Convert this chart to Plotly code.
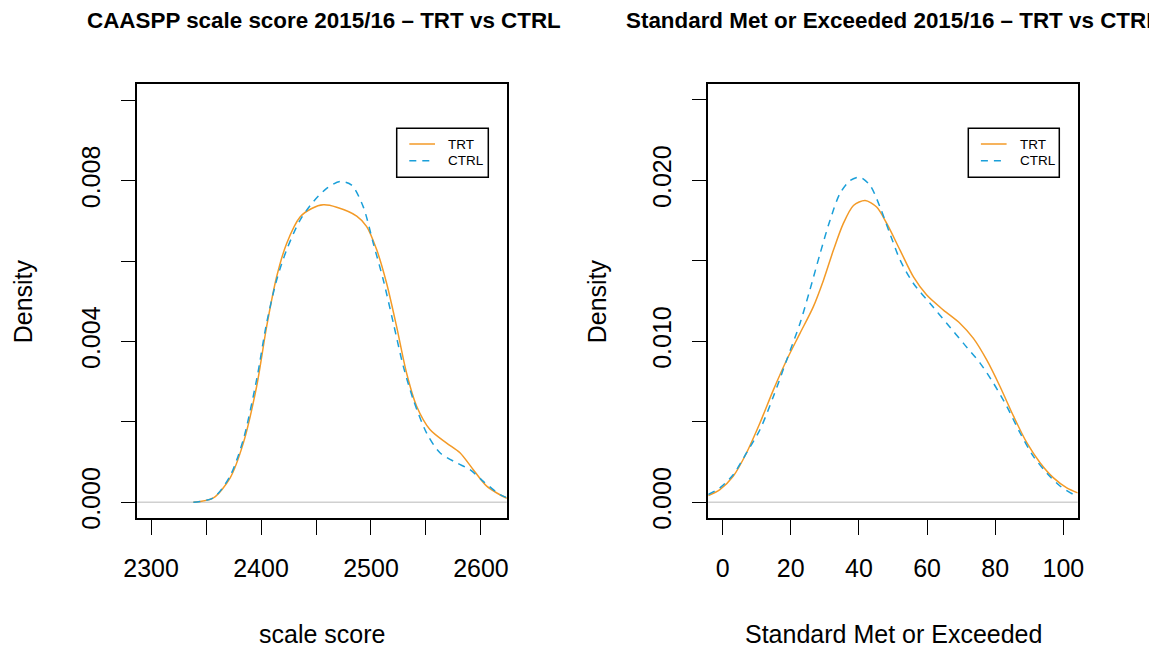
import plotly.graph_objects as go

# The page body adds an 8px margin, so the figure is drawn 8px smaller and
# all reference pixel positions are shifted by that offset.
WIN_W, WIN_H = 1157, 650
OFF = 8
W, H = WIN_W - OFF, WIN_H - OFF

# ---- data ----
score_trt_x = [2338.5, 2356.7, 2371.8, 2383.9, 2396.0, 2405.1, 2414.2, 2423.3, 2435.5, 2446.1,
               2456.7, 2468.8, 2487.0, 2496.1, 2505.2, 2514.2, 2523.3, 2532.4, 2541.5, 2553.6,
               2568.8, 2580.9, 2593.0, 2605.2, 2622.7, 2630.0]
score_trt_y = [0.0, 0.00011, 0.0006, 0.00147, 0.00288, 0.00437, 0.00561, 0.00644, 0.0071, 0.00731,
               0.0074, 0.00734, 0.00712, 0.00686, 0.00628, 0.00545, 0.00437, 0.00321, 0.00239, 0.00181,
               0.00147, 0.00123, 0.00081, 0.0004, 0.00011, 0.00005]
score_ctrl_x = [2338.5, 2356.7, 2371.8, 2383.9, 2396.0, 2405.1, 2414.2, 2423.3, 2435.5, 2447.6,
                2459.7, 2471.8, 2482.4, 2493.0, 2502.1, 2511.2, 2520.3, 2529.4, 2538.5, 2550.6,
                2562.7, 2577.9, 2590.0, 2602.1, 2617.3, 2630.0]
score_ctrl_y = [0.0, 0.00011, 0.00065, 0.00156, 0.00305, 0.00446, 0.00553, 0.00628, 0.00702, 0.00748,
                0.00781, 0.00798, 0.00789, 0.00735, 0.00644, 0.00553, 0.00446, 0.00338, 0.00255, 0.00172,
                0.00123, 0.00098, 0.00081, 0.00052, 0.00019, 0.00005]

met_trt_x = [-4.2, -0.8, 3.1, 7.0, 10.95, 14.9, 18.8, 22.7, 26.6, 29.6, 32.5, 35.4, 38.4, 41.8, 45.2,
             48.2, 52.1, 56.0, 59.9, 64.8, 69.7, 73.6, 77.5, 81.4, 85.4, 89.3, 93.2, 97.1, 101.0, 104.2]
met_trt_y = [0.00041, 0.00078, 0.00161, 0.00306, 0.00492, 0.00698, 0.00884, 0.01049, 0.01214, 0.0138,
             0.01565, 0.01731, 0.01844, 0.01875, 0.01834, 0.01731, 0.01565, 0.014, 0.01287, 0.01194,
             0.01111, 0.01018, 0.00884, 0.00719, 0.00533, 0.00368, 0.00244, 0.00151, 0.00089, 0.00058]
met_ctrl_x = [-4.2, -0.8, 3.1, 7.0, 10.95, 14.9, 18.8, 22.7, 25.6, 28.6, 31.5, 34.4, 37.4, 40.3, 43.3,
              46.2, 49.1, 52.1, 56.0, 60.9, 65.8, 70.7, 75.6, 79.5, 83.4, 87.3, 91.2, 95.1, 99.1, 103.0, 104.2]
met_ctrl_y = [0.00048, 0.00089, 0.00171, 0.00306, 0.0045, 0.00657, 0.00884, 0.01111, 0.01318, 0.01545,
              0.01751, 0.01917, 0.01999, 0.0202, 0.01968, 0.01834, 0.01669, 0.01504, 0.01359, 0.01235,
              0.01111, 0.00987, 0.00863, 0.00739, 0.00595, 0.0043, 0.00285, 0.00182, 0.00099, 0.00048, 0.0004]

left_xticks = [2300, 2350, 2400, 2450, 2500, 2550, 2600]
left_xlabels = ["2300", "", "2400", "", "2500", "", "2600"]
left_yticks = [0.0, 0.002, 0.004, 0.006, 0.008, 0.010]
left_ylabels = ["0.000", "", "0.004", "", "0.008", ""]
right_xticks = [0, 20, 40, 60, 80, 100]
right_xlabels = ["0", "20", "40", "60", "80", "100"]
right_yticks = [0.0, 0.005, 0.010, 0.015, 0.020, 0.025]
right_ylabels = ["0.000", "", "0.010", "", "0.020", ""]

titles = ["CAASPP scale score 2015/16 \u2013 TRT vs CTRL",
          "Standard Met or Exceeded 2015/16 \u2013 TRT vs CTRL"]
xtitles = ["scale score", "Standard Met or Exceeded"]
series_names = ["TRT", "CTRL"]

ORANGE = "#F39A27"
BLUE = "#1A9FD9"
DASH = "7px,6px"
FONT = "Liberation Sans, Arial, Helvetica, sans-serif"

# ---- geometry (reference window pixels) ----
L1, R1 = 137.3, 506.7
L2, R2 = 708.3, 1077.7
TOP, BOT = 84.3, 518.3

def px(x):
    return (x - OFF) / W

def py(y):
    return 1 - (y - OFF) / H

fig = go.Figure()

fig.add_trace(go.Scatter(x=score_trt_x, y=score_trt_y, mode="lines", name=series_names[0],
                         line=dict(color=ORANGE, width=1.5, shape="spline", smoothing=0.8),
                         xaxis="x", yaxis="y", showlegend=False))
fig.add_trace(go.Scatter(x=score_ctrl_x, y=score_ctrl_y, mode="lines", name=series_names[1],
                         line=dict(color=BLUE, width=1.5, dash=DASH, shape="spline", smoothing=0.8),
                         xaxis="x", yaxis="y", showlegend=False))
fig.add_trace(go.Scatter(x=met_trt_x, y=met_trt_y, mode="lines", name=series_names[0],
                         line=dict(color=ORANGE, width=1.5, shape="spline", smoothing=0.8),
                         xaxis="x2", yaxis="y2", showlegend=False))
fig.add_trace(go.Scatter(x=met_ctrl_x, y=met_ctrl_y, mode="lines", name=series_names[1],
                         line=dict(color=BLUE, width=1.5, dash=DASH, shape="spline", smoothing=0.8),
                         xaxis="x2", yaxis="y2", showlegend=False))

axis_common = dict(showline=True, mirror=True, linecolor="black", linewidth=1.5,
                   ticks="outside", ticklen=15, tickwidth=1.2, tickcolor="black",
                   showgrid=False, zeroline=False, automargin=False,
                   tickfont=dict(family=FONT, size=25, color="black"))

fig.update_layout(
    width=W, height=H,
    margin=dict(l=0, r=0, t=0, b=0, autoexpand=False),
    paper_bgcolor="white", plot_bgcolor="white",
    showlegend=False,
    xaxis=dict(domain=[px(L1), px(R1)], range=[2287.5, 2623.4], anchor="y",
               tickvals=left_xticks, ticktext=left_xlabels, ticklabelstandoff=12, **axis_common),
    yaxis=dict(domain=[py(BOT), py(TOP)], range=[-0.0004, 0.0104], anchor="x",
               tickvals=left_yticks, ticktext=left_ylabels, tickangle=-90, ticklabelstandoff=11,
               **axis_common),
    xaxis2=dict(domain=[px(L2), px(R2)], range=[-4.2, 104.2], anchor="y2",
                tickvals=right_xticks, ticktext=right_xlabels, ticklabelstandoff=12, **axis_common),
    yaxis2=dict(domain=[py(BOT), py(TOP)], range=[-0.001, 0.02597], anchor="x2",
                tickvals=right_yticks, ticktext=right_ylabels, tickangle=-90, ticklabelstandoff=11,
                **axis_common),
)

# gray zero lines
for xr, yr in [("x", "y"), ("x2", "y2")]:
    fig.add_shape(type="line", xref=f"{xr} domain", yref=yr, x0=0, x1=1, y0=0, y1=0,
                  line=dict(color="#D0D0D0", width=1.5), layer="below")

# legends (box, key lines, labels) drawn in each panel's top-right corner
legend_boxes = [(396.7, 488.3), (968.3, 1059.3)]
LG_TOP, LG_BOT = 128.3, 177.3
LG_ROWS = [144.0, 160.7]
for bx0, bx1 in legend_boxes:
    fig.add_shape(type="rect", xref="paper", yref="paper", x0=px(bx0), x1=px(bx1),
                  y0=py(LG_BOT), y1=py(LG_TOP), line=dict(color="black", width=1.5),
                  fillcolor="white", layer="above")
    styles = [dict(color=ORANGE, width=1.5), dict(color=BLUE, width=1.5, dash=DASH)]
    for row_y, name, st in zip(LG_ROWS, series_names, styles):
        fig.add_shape(type="line", xref="paper", yref="paper",
                      x0=px(bx0 + 12.6), x1=px(bx0 + 38.3), y0=py(row_y), y1=py(row_y),
                      line=st, layer="above")
        fig.add_annotation(x=px(bx0 + 49.3), y=py(row_y), xref="paper", yref="paper", text=name,
                           showarrow=False, xanchor="left", yanchor="middle",
                           font=dict(family=FONT, size=13.5, color="black"))

# titles
for cx, t in [((L1 + R1) / 2 + 2, titles[0]), ((L2 + R2) / 2, titles[1])]:
    fig.add_annotation(x=px(cx), y=py(21), xref="paper", yref="paper", text=f"<b>{t}</b>",
                       showarrow=False, xanchor="center", yanchor="middle",
                       font=dict(family=FONT, size=22.4, color="black"))
# x titles
for cx, t in [((L1 + R1) / 2, xtitles[0]), ((L2 + R2) / 2, xtitles[1])]:
    fig.add_annotation(x=px(cx), y=py(634), xref="paper", yref="paper", text=t,
                       showarrow=False, xanchor="center", yanchor="middle",
                       font=dict(family=FONT, size=25, color="black"))
# y titles
for cx in [23, 597]:
    fig.add_annotation(x=px(cx), y=py((TOP + BOT) / 2), xref="paper", yref="paper", text="Density",
                       showarrow=False, xanchor="center", yanchor="middle", textangle=-90,
                       font=dict(family=FONT, size=25, color="black"))

fig.write_html("out.html")
